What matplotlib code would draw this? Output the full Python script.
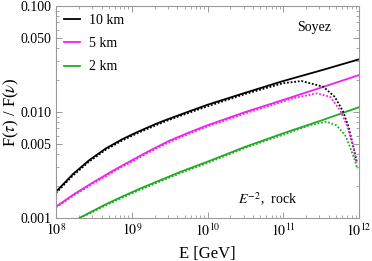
import matplotlib
matplotlib.use("Agg")
import matplotlib.pyplot as plt
from matplotlib.ticker import FixedLocator, FixedFormatter, LogLocator, NullFormatter
import numpy as np

plt.rcParams['font.family'] = ['Liberation Serif', 'DejaVu Serif']
plt.rcParams['mathtext.fontset'] = 'stix'

# Solid curves (energy in GeV, ratio F(tau)/F(nu))
E10_solid = [1e8, 10**8.22, 10**8.44, 10**8.66, 10**8.88, 10**9.1, 10**9.32, 10**9.45, 10**9.64,
             1e10, 10**10.5, 1e11, 10**11.5, 1e12]
f10_solid = [0.00177, 0.00258, 0.00352, 0.00454, 0.00556, 0.0066, 0.00773, 0.00841, 0.00944,
             0.0117, 0.0152, 0.0196, 0.0247, 0.0314]
E5_solid = [1e8, 10**8.25, 10**8.5, 10**8.75, 1e9, 10**9.25, 10**9.5, 10**9.75, 1e10,
            10**10.5, 1e11, 10**11.5, 1e12]
f5_solid = [0.00128, 0.0017, 0.00219, 0.00279, 0.0035, 0.00437, 0.00537, 0.00638, 0.0075,
            0.0100, 0.0130, 0.0170, 0.0223]
E2_solid = [10**8.31, 10**8.44, 10**8.66, 10**8.88, 10**9.1, 10**9.32, 10**9.45, 10**9.64, 1e10,
            10**10.5, 1e11, 10**11.5, 1e12]
f2_solid = [0.001, 0.00112, 0.00135, 0.0016, 0.00188, 0.00219, 0.00239, 0.00272, 0.0034,
            0.0047, 0.0063, 0.0083, 0.0111]

# Dotted curves
E10_dot = [1e8, 10**8.22, 10**8.44, 10**8.66, 10**8.88, 10**9.1, 10**9.45, 10**9.64, 1e10,
           10**10.5, 1e11, 10**11.24, 10**11.53, 10**11.68, 10**11.79, 10**11.86, 10**11.925,
           10**11.97]
f10_dot = [0.00172, 0.0025, 0.00342, 0.00442, 0.00541, 0.00643, 0.0082, 0.0092, 0.0113,
           0.0148, 0.0187, 0.0196, 0.0173, 0.0139, 0.0101, 0.0073, 0.0047, 0.0034]
E5_dot = [1e8, 10**8.25, 10**8.5, 10**8.75, 1e9, 10**9.25, 10**9.5, 10**9.75, 1e10,
          10**10.5, 1e11, 10**11.13, 10**11.44, 10**11.62, 10**11.75, 10**11.84, 10**11.925,
          10**11.97]
f5_dot = [0.00126, 0.00166, 0.00213, 0.00271, 0.0034, 0.00424, 0.00521, 0.0062, 0.0073,
          0.0097, 0.0126, 0.01346, 0.0150, 0.0139, 0.0104, 0.0075, 0.0047, 0.0033]
E2_dot = [10**8.31, 10**8.44, 10**8.66, 10**8.88, 10**9.1, 10**9.32, 10**9.64, 1e10,
          10**10.5, 1e11, 10**11.35, 10**11.57, 10**11.7, 10**11.815, 10**11.88, 10**11.947,
          10**11.978]
f2_dot = [0.001, 0.0011, 0.00132, 0.00156, 0.00183, 0.00213, 0.00265, 0.0033,
          0.0046, 0.0061, 0.0075, 0.0081, 0.0075, 0.0061, 0.0047, 0.0035, 0.0029]

labels = ["10 km", "5 km", "2 km"]
colors = ["black", "#f020f0", "#22aa22"]

yticks = [0.001, 0.005, 0.010, 0.050, 0.100]
yticklabels = ["0.001", "0.005", "0.010", "0.050", "0.100"]
xticks = [1e8, 1e9, 1e10, 1e11, 1e12]
xticklabels = [r"$10^{8}$", r"$10^{9}$", r"$10^{10}$", r"$10^{11}$", r"$10^{12}$"]

fig = plt.figure(figsize=(3.72, 2.61), dpi=100)
ax = fig.add_axes([56/372, 1-218/261, (359-56)/372, (218-6)/261])

lw = 1.3
ax.plot(E10_solid, f10_solid, color=colors[0], lw=lw, label=labels[0])
ax.plot(E5_solid, f5_solid, color=colors[1], lw=lw, label=labels[1])
ax.plot(E2_solid, f2_solid, color=colors[2], lw=lw, label=labels[2])
ax.plot(E10_dot, f10_dot, color=colors[0], lw=lw, ls=(0, (1, 1)))
ax.plot(E5_dot, f5_dot, color=colors[1], lw=lw, ls=(0, (1, 1)))
ax.plot(E2_dot, f2_dot, color=colors[2], lw=lw, ls=(0, (1, 1)))

ax.set_xscale('log')
ax.set_yscale('log')
ax.set_xlim(1e8, 1e12)
ax.set_ylim(0.001, 0.1)

ax.yaxis.set_major_locator(FixedLocator(yticks))
ax.yaxis.set_major_formatter(FixedFormatter(yticklabels))
ax.yaxis.set_minor_locator(LogLocator(base=10, subs=[2, 3, 4, 6, 7, 8, 9]))
ax.yaxis.set_minor_formatter(NullFormatter())
ax.xaxis.set_major_locator(FixedLocator(xticks))
ax.xaxis.set_major_formatter(FixedFormatter(xticklabels))
ax.xaxis.set_minor_locator(LogLocator(base=10, subs=np.arange(2, 10)))
ax.xaxis.set_minor_formatter(NullFormatter())

for s in ax.spines.values():
    s.set_color('#999999')
    s.set_linewidth(0.8)
ax.tick_params(which='both', direction='in', top=True, right=True, color='#999999', labelsize=10)
ax.tick_params(which='major', length=4, width=0.7, pad=3)
ax.tick_params(which='minor', length=2, width=0.6)

ax.set_xlabel("E [GeV]", fontsize=12, labelpad=5)
ax.set_ylabel(r"F($\tau$) / F($\nu$)", fontsize=12, labelpad=0)

leg = ax.legend(loc='upper left', frameon=False, fontsize=10, handlelength=1.2,
                handletextpad=0.6, labelspacing=0.75, borderaxespad=0.3, borderpad=0.25)

ax.text((314-56)/303, 1-(27-6)/212, "Soyez", fontsize=10, ha='center', va='center', transform=ax.transAxes)
ax.text((268-56)/303, 1-(199-6)/212, r"$E^{-2}$,  rock", fontsize=10, ha='center', va='center',
        transform=ax.transAxes)

fig.savefig("out.png", dpi=100)
